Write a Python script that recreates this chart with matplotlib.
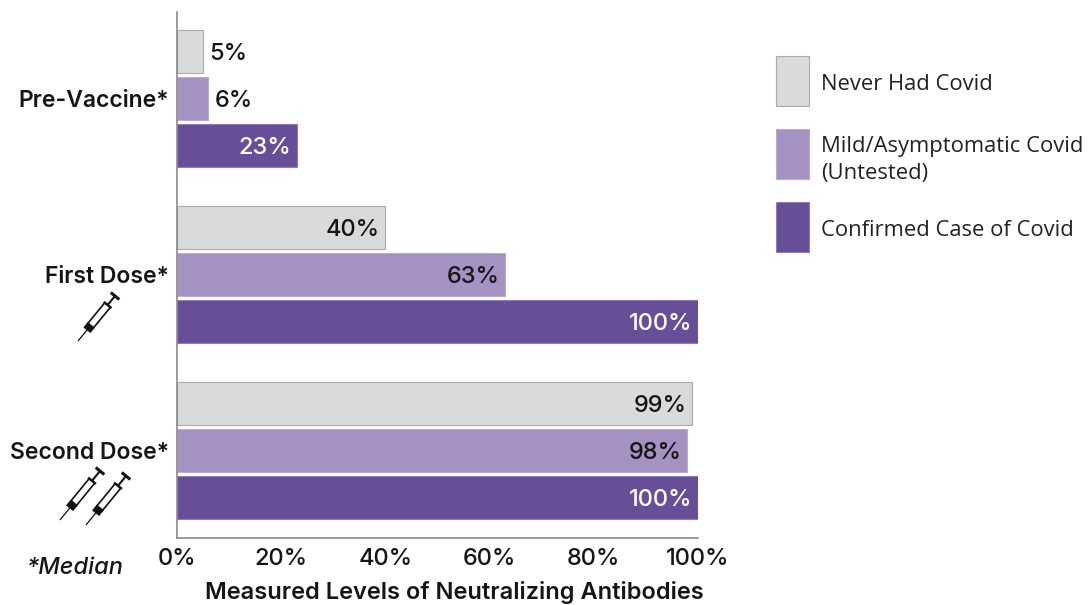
import numpy as np
import matplotlib as mpl
import matplotlib.pyplot as plt
from matplotlib.patches import Rectangle

mpl.rcParams['font.family'] = ['Inter', 'DejaVu Sans']

#---------------------------------------------------------------------------------------------------
# Data
#---------------------------------------------------------------------------------------------------

doses = ['Pre-Vaccine*', 'First Dose*', 'Second Dose*']
never_had = [5, 40, 99]
mild = [6, 63, 98]
confirmed = [23, 100, 100]
series_names = ['Never Had Covid', 'Mild/Asymptomatic Covid\n(Untested)', 'Confirmed Case of Covid']
x_ticks = [0, 20, 40, 60, 80, 100]

GREY = '#d9dadb'
LILAC = '#a592c2'
PURPLE = '#684e96'
W, H = 1088, 605

#---------------------------------------------------------------------------------------------------
# Helpers
#---------------------------------------------------------------------------------------------------

# Pixel position in the picture (y down) to figure fraction
def px(x, y):
    return x / W, 1 - y / H


# Draw a syringe icon from the needle tip to the plunger end, both in picture pixels
def syringe(fig, tip, end):
    tip = np.array(tip, dtype=float)
    end = np.array(end, dtype=float)
    u = (end - tip) / np.linalg.norm(end - tip)
    n = np.array([-u[1], u[0]])
    L = np.linalg.norm(end - tip)

    def seg(a, b, lw, s0=0, s1=0):
        p0 = tip + u * a + n * s0
        p1 = tip + u * b + n * s1
        xs, ys = zip(px(*p0), px(*p1))
        fig.add_artist(plt.Line2D(xs, ys, color='#111111', lw=lw, solid_capstyle='butt'))

    seg(0, L * 0.28, 0.9)               # needle
    seg(L * 0.24, L * 0.36, 6.5)        # hub
    for side in (-3.6, 3.6):
        seg(L * 0.32, L * 0.80, 1.2, side, side)   # barrel walls
    seg(L * 0.80, L * 1.0, 1.5)         # plunger rod
    seg(L * 0.80, L * 0.80, 1.8, -5, 5)
    seg(L, L, 2.2, -5.5, 5.5)


#---------------------------------------------------------------------------------------------------
# Chart
#---------------------------------------------------------------------------------------------------

def main():
    fig = plt.figure(figsize=(W / 100, H / 100), dpi=100)
    left, right = 177 / W, 697.5 / W
    top, bottom = 1 - 12 / H, 1 - 538 / H
    ax = fig.add_axes((left, bottom, right - left, top - bottom))

    y = np.arange(len(doses))
    offset = 47 / 176
    height = 43 / 176
    rows = [(never_had, -offset, GREY, '#a9aaac'),
            (mild, 0, LILAC, '#b9aad0'),
            (confirmed, offset, PURPLE, '#8f7db0')]

    for values, off, color, edge in rows:
        ax.barh(y + off, values, height=height, color=color, edgecolor=edge, linewidth=0.8)

    # Value labels sit inside the bar, apart from the two short ones
    for values, off, color, edge in rows:
        for yi, v in zip(y, values):
            txt = '%d%%' % v
            if v < 10:
                ax.text(v + 1.2, yi + off + 0.012, txt, ha='left', va='center', fontsize=17, color='#151515', fontweight='medium')
            else:
                col = 'white' if color == PURPLE else '#151515'
                ax.text(v - 1.0, yi + off + 0.012, txt, ha='right', va='center', fontsize=17, color=col, fontweight='medium')

    ax.set_xlim(0, 100)
    ax.set_ylim(2.497, -0.491)
    ax.spines['top'].set_visible(False)
    ax.spines['right'].set_visible(False)
    ax.spines['left'].set_color('#8a8a8a')
    ax.spines['bottom'].set_color('#8a8a8a')
    ax.spines['left'].set_linewidth(1.2)
    ax.spines['bottom'].set_linewidth(1.2)

    ax.set_xticks(x_ticks)
    ax.set_xticklabels(['%d%%' % t for t in x_ticks], fontsize=17, color='#151515', fontweight='medium')
    ax.set_yticks(y)
    ax.set_yticklabels(doses, fontsize=16.5, color='#151515', fontweight='semibold')
    ax.tick_params(axis='both', length=0)
    ax.tick_params(axis='x', pad=7)
    ax.tick_params(axis='y', pad=6)

    fig.text(*px(454.5, 592), 'Measured Levels of Neutralizing Antibodies', ha='center', va='center',
             fontsize=17, color='#151515', fontweight='semibold')
    fig.text(*px(75, 568), '*Median', ha='center', va='center', fontsize=17, style='italic',
             color='#151515', fontweight='medium')

    # Legend
    swatches = [(56, GREY, '#a9aaac'), (129, LILAC, '#b9aad0'), (202, PURPLE, '#8f7db0')]
    for (sy, color, edge) in swatches:
        x0, y0 = px(776, sy + 50)
        fig.add_artist(Rectangle((x0, y0), 33 / W, 50 / H, transform=fig.transFigure,
                                 facecolor=color, edgecolor=edge, linewidth=0.8))
    legend_y = [84, 160, 230.5]
    for name, ly in zip(series_names, legend_y):
        fig.text(*px(821, ly), name, ha='left', va='center', fontsize=15.8, color='#222222',
                 family=['Open Sans', 'DejaVu Sans'], linespacing=1.4)

    # Syringes
    syringe(fig, (78, 341), (115, 296))
    syringe(fig, (60, 520), (100, 471))
    syringe(fig, (86, 525), (126, 476))

    fig.savefig('out.png', dpi=100)
    plt.close(fig)


if __name__ == '__main__':
    main()
